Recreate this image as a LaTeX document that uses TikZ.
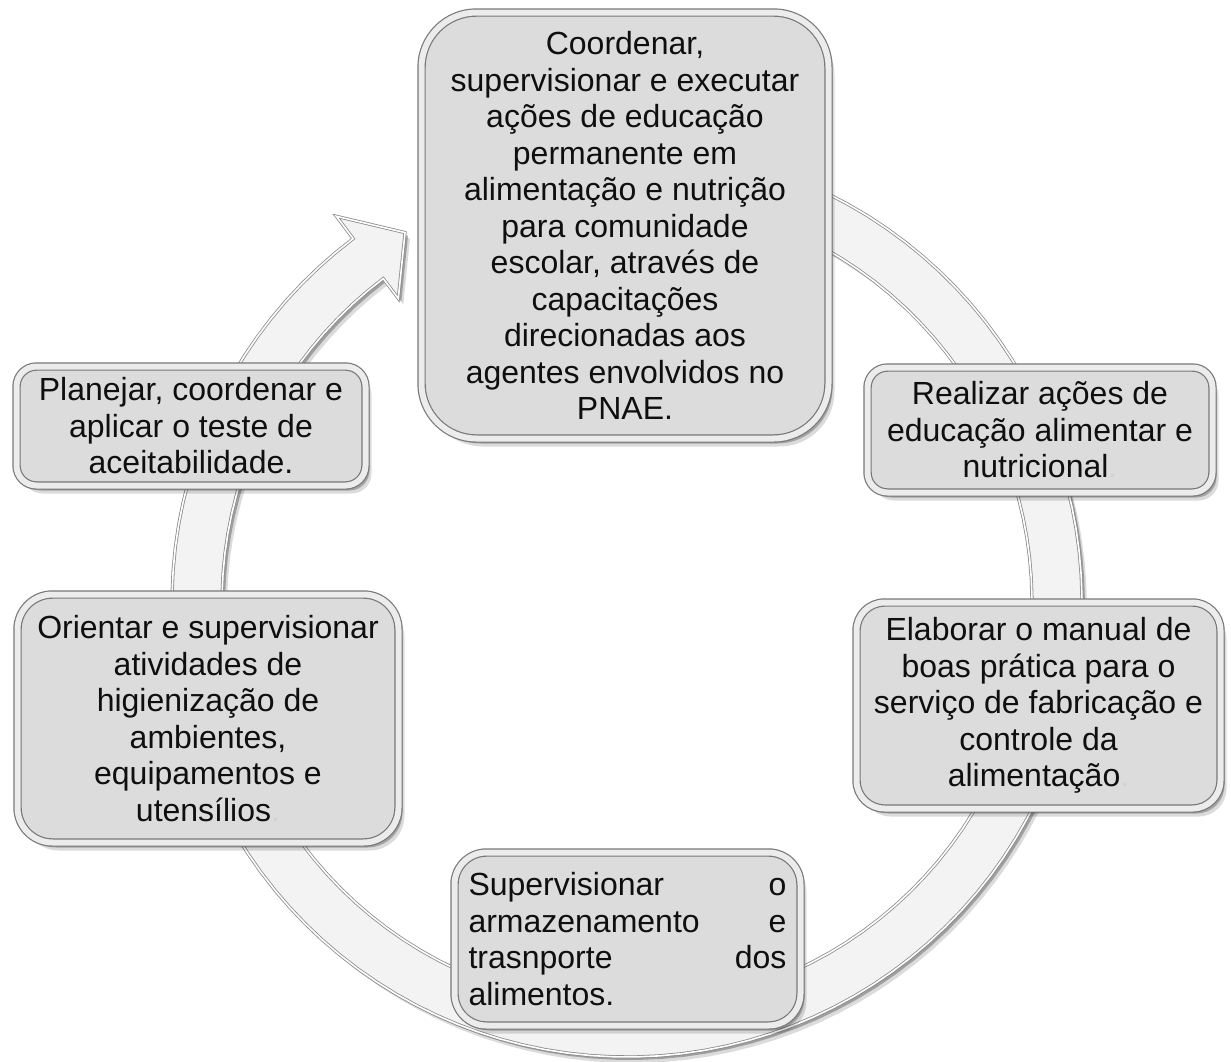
\documentclass[tikz,border=0pt]{standalone}
\usepackage{fontspec}
\setmainfont{Liberation Sans}
\usetikzlibrary{shadows}
\definecolor{boxfill}{RGB}{220,220,220}
\definecolor{boxline}{RGB}{120,120,120}
\definecolor{boxband}{RGB}{236,236,236}
\definecolor{ringfill}{RGB}{243,243,243}
\definecolor{ringline}{RGB}{140,140,140}
\definecolor{txt}{RGB}{15,15,15}
\begin{document}
\begin{tikzpicture}[x=1pt,y=-1pt,
  softshadow/.style={
    drop shadow={shadow xshift=2pt,shadow yshift=-2pt,opacity=.35,fill=black},
    drop shadow={shadow xshift=4pt,shadow yshift=-5pt,opacity=.25,fill=black},
    drop shadow={shadow xshift=6pt,shadow yshift=-8pt,opacity=.14,fill=black}},
  stepbox/.style={softshadow, draw=boxline, line width=1.2pt, double=boxband,
    double distance=6pt, fill=boxfill, inner sep=0pt, align=center,
    text=txt, font=\fontsize{32}{36.5}\selectfont},
  ringstyle/.style={fill=ringfill, draw=ringline, line width=0.8pt,
    double=white, double distance=1.6pt,
    drop shadow={shadow xshift=3pt,shadow yshift=-3pt,opacity=.28,fill=black},
    drop shadow={shadow xshift=5pt,shadow yshift=-6pt,opacity=.14,fill=black}}]
\useasboundingbox (0,0) rectangle (1231,1061);
\fill[white] (0,0) rectangle (1231,1061);

% circular arrow
\path[ringstyle]
  plot[domain=250:593,samples=120] ({627+455*cos(\x)},{602+455*sin(\x)})
  -- ({627+483*cos(593)},{602+483*sin(593)})
  -- ({627+431*cos(599)},{602+431*sin(599)})
  -- ({627+380*cos(593)},{602+380*sin(593)})
  -- plot[domain=593:250,samples=120] ({627+405*cos(\x)},{602+405*sin(\x)})
  -- cycle;

\node[stepbox, minimum width=407pt, minimum height=426pt, rounded corners=55pt]
  (top) at (625,225.5)
  {Coordenar,\\supervisionar e executar\\ações de educação\\permanente em\\alimentação e nutrição\\para comunidade\\escolar, através de\\capacitações\\direcionadas aos\\agentes envolvidos no\\PNAE.};

\node[stepbox, minimum width=345pt, minimum height=125pt, rounded corners=20pt]
  (realizar) at (1040,430)
  {Realizar ações de\\educação alimentar e\\nutricional{\color{gray!35}.}};

\node[stepbox, minimum width=364pt, minimum height=206pt, rounded corners=28pt]
  (elaborar) at (1038.5,705.5)
  {Elaborar o manual de\\boas prática para o\\serviço de fabricação e\\controle da\\alimentação{\color{gray!35}.}};

\node[stepbox, minimum width=346pt, minimum height=173pt, rounded corners=32pt,
  text width=318pt, align=left]
  (supervisionar) at (627.5,939)
  {Supervisionar\hfill o\\armazenamento\hfill e\\trasnporte\hfill dos\\alimentos.};

\node[stepbox, minimum width=381pt, minimum height=248pt, rounded corners=35pt]
  (orientar) at (208,718.5)
  {Orientar e supervisionar\\atividades de\\higienização de\\ambientes,\\equipamentos e\\utensílios{\color{gray!35}.}};

\node[stepbox, minimum width=349pt, minimum height=119pt, rounded corners=20pt]
  (planejar) at (191,426)
  {Planejar, coordenar e\\aplicar o teste de\\aceitabilidade.};
\end{tikzpicture}
\end{document}
